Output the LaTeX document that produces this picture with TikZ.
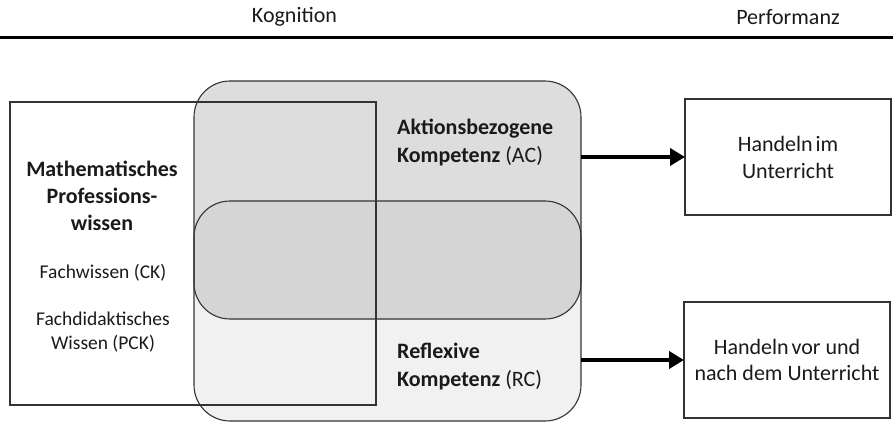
\documentclass[tikz,border=0pt]{standalone}
\usepackage{fontspec}
\setmainfont{Carlito}
\usetikzlibrary{arrows.meta}
\definecolor{acfill}{HTML}{DDDDDD}
\definecolor{rcfill}{HTML}{F1F1F1}
\definecolor{ovfill}{HTML}{D5D5D5}
\definecolor{ink}{HTML}{1A1A1A}
\definecolor{edge}{HTML}{333333}
\newcommand{\tsp}{\hspace{0.13em}}
\tikzset{
  shapebox/.style={rectangle, inner sep=0pt, outer sep=0pt, anchor=north west},
  plainbox/.style={shapebox, draw=edge, line width=1.1pt},
  txt/.style={inner sep=0pt, text=ink, font=\fontsize{22}{27}\selectfont, align=center},
  smalltxt/.style={inner sep=0pt, text=ink, font=\fontsize{19.5}{24}\selectfont, align=center},
  txtl/.style={inner sep=0pt, text=ink, font=\fontsize{22}{28}\selectfont, align=left, anchor=west},
  bigarrow/.style={line width=4.5pt, draw=black, -{Triangle[length=15pt,width=17pt]}},
}
\begin{document}
\begin{tikzpicture}[x=1pt,y=-1pt]
\useasboundingbox (0,0) rectangle (893,422);
% header
\node[txt] (kog) at (294.5,17) {Kognition};
\node[txt] (perf) at (788,17) {Performanz};
\coordinate (ruleL) at (0,38);
\coordinate (ruleR) at (893,38);
\draw[line width=3pt, black] (ruleL) -- (ruleR);
% competence shapes
\node[shapebox, fill=rcfill, rounded corners=36pt, minimum width=387pt, minimum height=220pt] (rc) at (194,201) {};
\node[shapebox, fill=acfill, rounded corners=36pt, minimum width=387pt, minimum height=238pt] (ac) at (194,81) {};
\begin{scope}
  \clip[rounded corners=36pt] (rc.north west) rectangle (rc.south east);
  \fill[ovfill, rounded corners=36pt] (ac.north west) rectangle (ac.south east);
\end{scope}
\draw[edge, line width=1.1pt, rounded corners=36pt] (rc.north west) rectangle (rc.south east);
\draw[edge, line width=1.1pt, rounded corners=36pt] (ac.north west) rectangle (ac.south east);
% knowledge box
\node[plainbox, minimum width=366pt, minimum height=303pt] (mpw) at (10,102) {};
\node[txt, font=\fontsize{22}{27}\selectfont\bfseries] (mpwt) at (102,196) {Mathematisches\\Professions-\\wissen};
\node[smalltxt] (ck) at (103,273) {Fachwissen (CK)};
\node[smalltxt] (pck) at (103,332) {Fachdidaktisches\\Wissen (PCK)};
% competence labels
\node[txtl] (act) at (397,142) {\textbf{Aktionsbezogene}\\\textbf{Kompetenz} (AC)};
\node[txtl] (rct) at (397,367) {\textbf{Reflexive}\\\textbf{Kompetenz} (RC)};
% performance boxes
\node[plainbox, minimum width=206pt, minimum height=116pt] (h1) at (685,99) {};
\node[txt] (h1t) at (h1.center) {Handeln\tsp im\\Unterricht};
\node[plainbox, minimum width=206pt, minimum height=116pt] (h2) at (684,302) {};
\node[txt, font=\fontsize{22}{26}\selectfont] (h2t) at (h2.center) {Handeln\tsp vor und\\nach dem Unterricht};
% arrows
\draw[bigarrow] (ac.east |- h1.west) -- (h1.west);
\draw[bigarrow] (rc.east |- h2.west) -- (h2.west);
\end{tikzpicture}
\end{document}
